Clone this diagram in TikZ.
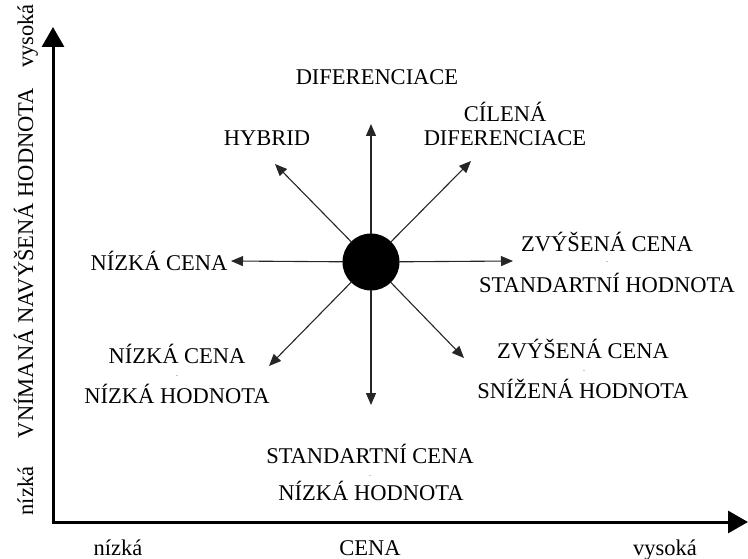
\documentclass[tikz,border=0pt]{standalone}
\usepackage{fontspec}
\setmainfont{Liberation Serif}
\usetikzlibrary{arrows.meta}
\begin{document}
\begin{tikzpicture}[x=1pt,y=-1pt,
  lbl/.style={font=\fontsize{22.5}{26}\selectfont, inner sep=0pt, anchor=base},
  dsh/.style={font=\fontsize{7}{8}\selectfont, inner sep=0pt, text=gray},
  ray/.style={line width=1.1pt, draw=black!85, -{Triangle[length=12pt,width=10pt]}, shorten <=-1pt},
  axis/.style={line width=3pt, -{Triangle[length=20pt,width=22pt]}}]
\useasboundingbox (0,0) rectangle (748,559);
% axes
\coordinate (o) at (53,522);
\coordinate (ytop) at (53,27);
\coordinate (xend) at (748,522);
\draw[axis] ([yshift=-1.5pt]o) -- (ytop);
\draw[axis] ([xshift=-1.5pt]o) -- (xend);
% centre
\node[circle, fill=black, minimum size=57pt, inner sep=0pt] (c) at (371,262) {};
\coordinate (tu) at (371,124);
\coordinate (tul) at (275,164);
\coordinate (tur) at (471,161);
\coordinate (tl) at (231,261);
\coordinate (tr) at (513,261);
\coordinate (tdl) at (269,366);
\coordinate (td) at (371,405);
\coordinate (tdr) at (464,358);
\foreach \t in {tu,tul,tur,tl,tr,tdl,td,tdr} \draw[ray] (c) -- (\t);
% labels
\node[lbl] (dif) at (377,85) {DIFERENCIACE};
\node[lbl] (hyb) at (267,146) {HYBRID};
\node[lbl] (cil1) at (505,122) {CÍLENÁ};
\node[lbl] (cil2) at (505,146) {DIFERENCIACE};
\node[lbl] (nc) at (159,270) {NÍZKÁ CENA};
\node[lbl] (zc1) at (607,252) {ZVÝŠENÁ CENA};
\node[dsh] (zd1) at (607,263) {-};
\node[lbl] (zc2) at (607,292) {STANDARTNÍ HODNOTA};
\node[lbl] (nn1) at (177,363) {NÍZKÁ CENA};
\node[dsh] (nd1) at (177,377) {-};
\node[lbl] (nn2) at (177,403) {NÍZKÁ HODNOTA};
\node[lbl] (zs1) at (583,358) {ZVÝŠENÁ CENA};
\node[dsh] (zd2) at (584,372) {-};
\node[lbl] (zs2) at (583,398) {SNÍŽENÁ HODNOTA};
\node[lbl] (sc1) at (370,463) {STANDARTNÍ CENA};
\node[dsh] (sd1) at (370,477) {-};
\node[lbl] (sc2) at (371,500) {NÍZKÁ HODNOTA};
% axis labels
\node[lbl] (xl) at (118,555) {nízká};
\node[lbl] (xm) at (370,555) {CENA};
\node[lbl] (xh) at (665,555) {vysoká};
\node[lbl, rotate=90] (yl) at (33,491) {nízká};
\node[lbl, rotate=90] (ym) at (33,263) {VNÍMANÁ NAVÝŠENÁ HODNOTA};
\node[lbl, rotate=90] (yh) at (33,36) {vysoká};
\end{tikzpicture}
\end{document}
